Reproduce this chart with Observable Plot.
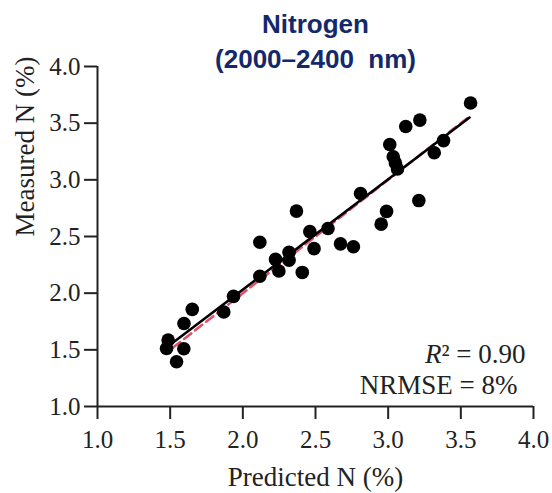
<!DOCTYPE html>
<html>
<head>
<meta charset="utf-8">
<script src="https://cdn.jsdelivr.net/npm/d3@7"></script>
<script src="https://cdn.jsdelivr.net/npm/@observablehq/plot@0.6"></script>
<style>
  html, body { margin: 0; padding: 0; background: #fff; }
  #chart { width: 552px; height: 493px; }
</style>
</head>
<body>
<div id="chart"></div>
<script>
// Data
const predicted = [1.475, 1.486, 1.544, 1.594, 1.595, 1.652, 1.869, 1.936, 2.117, 2.117,
                   2.225, 2.248, 2.318, 2.318, 2.369, 2.409, 2.461, 2.490, 2.586, 2.672,
                   2.761, 2.810, 2.952, 2.989, 3.011, 3.035, 3.050, 3.064, 3.121, 3.218,
                   3.211, 3.317, 3.381, 3.567];
const measured  = [1.512, 1.586, 1.395, 1.510, 1.732, 1.857, 1.834, 1.972, 2.149, 2.449,
                   2.298, 2.196, 2.361, 2.291, 2.724, 2.183, 2.543, 2.393, 2.571, 2.435,
                   2.409, 2.879, 2.609, 2.722, 3.312, 3.204, 3.148, 3.095, 3.470, 3.527,
                   2.817, 3.239, 3.346, 3.678];
const fitX = [1.50, 3.56];
const fitY = [1.545, 3.55];
const refX = [1.52, 3.55];
const refY = [1.52, 3.55];
const xTicks = [1.0, 1.5, 2.0, 2.5, 3.0, 3.5, 4.0];
const yTicks = [1.0, 1.5, 2.0, 2.5, 3.0, 3.5, 4.0];
const titleLines = ["Nitrogen", "(2000–2400  nm)"];
const xLabel = "Predicted N (%)";
const yLabel = "Measured N (%)";
const r2Text = "R² = 0.90";
const nrmseText = "NRMSE = 8%";

const points = predicted.map((p, i) => ({p, m: measured[i]}));
const fit = fitX.map((x, i) => ({x, y: fitY[i]}));
const ref = refX.map((x, i) => ({x, y: refY[i]}));

const serif = "'Liberation Serif', 'Times New Roman', serif";
const sans = "'Liberation Sans', Arial, sans-serif";
const axisColor = "#222";

const chart = Plot.plot({
  width: 552,
  height: 493,
  marginLeft: 97,
  marginRight: 19,
  marginTop: 66,
  marginBottom: 87,
  style: {fontFamily: serif, background: "#fff", overflow: "visible"},
  x: {domain: [1, 4]},
  y: {domain: [1, 4]},
  marks: [
    Plot.ruleX([1], {stroke: axisColor, strokeWidth: 2}),
    Plot.ruleY([1], {stroke: axisColor, strokeWidth: 2}),
    Plot.axisX({ticks: xTicks, tickSize: 13, tickPadding: 11, tickFormat: d => d.toFixed(1),
                fontSize: 25, fontFamily: serif, stroke: axisColor, strokeWidth: 2, fill: axisColor, label: null}),
    Plot.axisY({ticks: yTicks, tickSize: 13, tickPadding: 4, tickFormat: d => d.toFixed(1),
                fontSize: 25, fontFamily: serif, stroke: axisColor, strokeWidth: 2, fill: axisColor, label: null}),
    Plot.line(ref, {x: "x", y: "y", stroke: "#e0506a", strokeWidth: 2.6, strokeDasharray: "9,5"}),
    Plot.line(fit, {x: "x", y: "y", stroke: "#000", strokeWidth: 2.6}),
    Plot.dot(points, {x: "p", y: "m", r: 6.8, fill: "#000", stroke: "none"}),
    Plot.text([titleLines[0]], {frameAnchor: "top", dy: -34, lineAnchor: "bottom", fontSize: 26,
               fontWeight: "bold", fontFamily: sans, fill: "#13296b"}),
    Plot.text([titleLines[1]], {frameAnchor: "top", dy: 1.5, lineAnchor: "bottom", fontSize: 26,
               fontWeight: "bold", fontFamily: sans, fill: "#13296b"}),
    Plot.text([xLabel], {frameAnchor: "bottom", dy: 79, lineAnchor: "bottom", fontSize: 27, fill: axisColor}),
    Plot.text([yLabel], {frameAnchor: "left", dx: -64, rotate: -90, lineAnchor: "bottom", fontSize: 27, fill: axisColor}),
    Plot.text([r2Text], {frameAnchor: "bottom-right", dx: -8, dy: -44, lineAnchor: "bottom", textAnchor: "end",
               fontSize: 27, fill: axisColor}),
    Plot.text([nrmseText], {frameAnchor: "bottom-right", dx: -16, dy: -13, lineAnchor: "bottom", textAnchor: "end",
               fontSize: 27, fill: axisColor})
  ]
});

// italicize the R in the R² annotation
d3.select(chart).selectAll("text").each(function() {
  if (this.textContent === r2Text) {
    const t = d3.select(this);
    t.text(null);
    t.append("tspan").attr("font-style", "italic").text(r2Text.slice(0, 1));
    t.append("tspan").text(r2Text.slice(1));
  }
});

document.getElementById("chart").appendChild(chart);
</script>
</body>
</html>
